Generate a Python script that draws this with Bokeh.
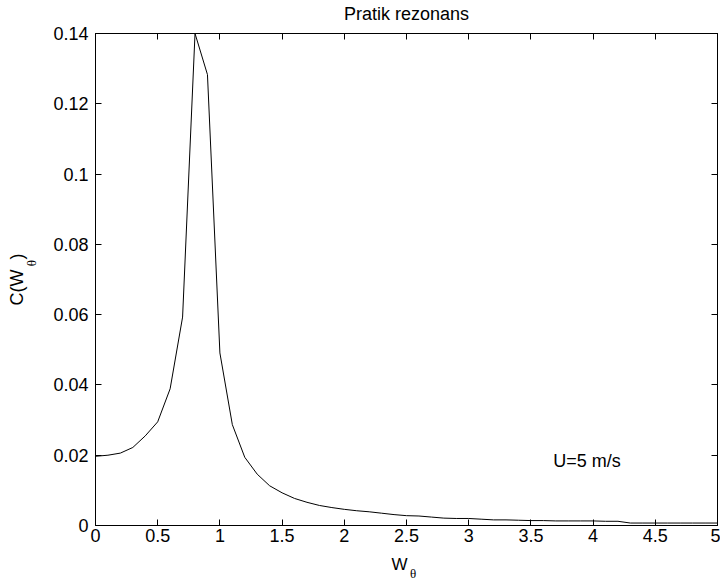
from bokeh.plotting import figure
from bokeh.models import LinearAxis, FixedTicker, Label, Range1d
from bokeh.embed import file_html
from bokeh.resources import INLINE

# ---- data ----
w_theta = [0.0, 0.1, 0.2, 0.3, 0.4, 0.5, 0.6, 0.7, 0.8, 0.9,
           1.0, 1.1, 1.2, 1.3, 1.4, 1.5, 1.6, 1.7, 1.8, 1.9,
           2.0, 2.1, 2.2, 2.3, 2.4, 2.5, 2.6, 2.7, 2.8, 2.9,
           3.0, 3.1, 3.2, 3.3, 3.4, 3.5, 3.6, 3.7, 3.8, 3.9,
           4.0, 4.1, 4.2, 4.3, 4.4, 4.5, 4.6, 4.7, 4.8, 4.9, 5.0]
c_w = [0.0197, 0.0200, 0.0206, 0.0222, 0.0255, 0.0295, 0.0389, 0.0593, 0.1400, 0.1283,
       0.0491, 0.0287, 0.0194, 0.0146, 0.0113, 0.0093, 0.0077, 0.0066, 0.0057, 0.0051,
       0.0046, 0.0042, 0.0039, 0.0035, 0.0031, 0.0028, 0.0027, 0.0024, 0.0021, 0.0020,
       0.0020, 0.0018, 0.0016, 0.0016, 0.0015, 0.0014, 0.0014, 0.0013, 0.0013, 0.0013,
       0.0013, 0.0012, 0.0012, 0.0007, 0.0007, 0.0007, 0.0007, 0.0007, 0.0007, 0.0007, 0.0007]

x_ticks = [0, 0.5, 1, 1.5, 2, 2.5, 3, 3.5, 4, 4.5, 5]
x_tick_labels = ["0", "0.5", "1", "1.5", "2", "2.5", "3", "3.5", "4", "4.5", "5"]
y_ticks = [0, 0.02, 0.04, 0.06, 0.08, 0.1, 0.12, 0.14]
y_tick_labels = ["0", "0.02", "0.04", "0.06", "0.08", "0.1", "0.12", "0.14"]

title_text = "Pratik rezonans"
x_label_main = "W"
y_label_main = "C(W\u00a0\u00a0)"
subscript = "θ"
annotation_text = "U=5 m/s"

FONT = "Liberation Sans"
SERIF = "Liberation Serif"
FS = "18px"
NB = "\u00a0"

p = figure(width=720, height=584, output_backend="svg", toolbar_location=None,
           x_range=Range1d(0, 5), y_range=Range1d(0, 0.14),
           min_border_left=95, min_border_right=3, min_border_top=33, min_border_bottom=59,
           x_axis_location=None, y_axis_location=None)
p.grid.visible = False
p.outline_line_color = "black"
p.outline_line_width = 1
p.background_fill_color = "white"
p.border_fill_color = "white"


def tick_axis(ticks, labels, show_labels, standoff):
    ax = LinearAxis(ticker=FixedTicker(ticks=ticks))
    ax.major_label_overrides = {t: (l if show_labels else "") for t, l in zip(ticks, labels)}
    ax.major_tick_in = 6
    ax.major_tick_out = 0
    ax.minor_tick_line_color = None
    ax.major_tick_line_color = "black"
    ax.axis_line_color = "black"
    ax.major_label_text_font = FONT
    ax.major_label_text_font_size = FS if show_labels else "1px"
    ax.major_label_text_color = "black"
    ax.major_label_standoff = standoff
    ax.axis_label_text_font_style = "normal"
    ax.axis_label_text_color = "black"
    return ax


def label_axis(text, font, size, standoff):
    ax = LinearAxis(ticker=FixedTicker(ticks=[]))
    ax.axis_line_color = None
    ax.major_tick_line_color = None
    ax.minor_tick_line_color = None
    ax.major_label_text_font_size = "1px"
    ax.axis_label = text
    ax.axis_label_text_font = font
    ax.axis_label_text_font_size = size
    ax.axis_label_text_font_style = "normal"
    ax.axis_label_text_color = "black"
    ax.axis_label_standoff = standoff
    return ax


# bottom: tick axis carries "W", a second label-only axis carries the subscript
xb = tick_axis(x_ticks, x_tick_labels, True, 3)
xb.axis_label = x_label_main + NB * 3
xb.axis_label_text_font = FONT
xb.axis_label_text_font_size = "17px"
xb.axis_label_standoff = 10
p.add_layout(xb, "below")
p.add_layout(label_axis(NB * 4 + subscript, SERIF, "13px", -11), "below")

# left: tick axis carries the subscript, a second label-only axis carries "C(W  )"
yl = tick_axis(y_ticks, y_tick_labels, True, 7)
yl.axis_label = NB * 10 + subscript
yl.axis_label_text_font = SERIF
yl.axis_label_text_font_size = "13px"
yl.axis_label_standoff = 11
p.add_layout(yl, "left")
p.add_layout(label_axis(y_label_main, FONT, FS, -5), "left")

# top: tick axis (no labels) carries the title text
xt = tick_axis(x_ticks, x_tick_labels, False, 0)
xt.axis_label = title_text
xt.axis_label_text_font = FONT
xt.axis_label_text_font_size = "18px"
xt.axis_label_standoff = 10
p.add_layout(xt, "above")

# right: tick axis without labels
p.add_layout(tick_axis(y_ticks, y_tick_labels, False, 0), "right")

p.line(w_theta, c_w, line_color="black", line_width=1)

p.add_layout(Label(x=3.68, y=0.0183, text=annotation_text, text_align="left",
                   text_baseline="alphabetic", text_font=FONT, text_font_size="18px",
                   text_color="black"))

open("out.html", "w").write(file_html(p, INLINE))
